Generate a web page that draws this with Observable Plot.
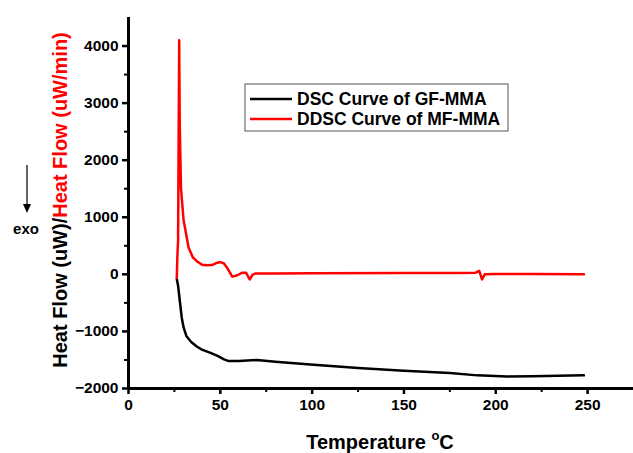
<!DOCTYPE html>
<html><head><meta charset="utf-8">
<script src="https://cdn.jsdelivr.net/npm/d3@7"></script>
<script src="https://cdn.jsdelivr.net/npm/@observablehq/plot@0.6"></script>
<style>
body{margin:0;background:#fff;}
svg{font-family:"Liberation Sans",Arial,sans-serif;}
</style></head>
<body><div id="chart"></div>
<script>
const dscT = [26.3,27,28,29,30,31.5,34,37,40,45,48.5,52,54.5,60,70,80,99,125,150,175,190,206,220,248];
const dscV = [-80,-200,-480,-760,-930,-1080,-1180,-1260,-1320,-1380,-1430,-1490,-1520,-1520,-1500,-1530,-1580,-1640,-1690,-1730,-1770,-1790,-1785,-1770];
const ddscT = [26.3,26.6,27.0,27.6,27.9,28.6,30,32.7,35,37.6,40,43,46,48,50,52,54,56.5,59,62,64,66,67.5,69,80,100,150,180,189,191,192.5,194,200,220,248];
const ddscV = [-60,300,600,4100,2600,1500,950,470,300,220,170,160,170,200,215,190,100,-40,-20,30,30,-90,-10,15,15,20,25,25,30,60,-90,0,5,5,0];
const xMajor = [0,50,100,150,200,250];
const xMinor = [25,75,125,175,225];
const yMajor = [-2000,-1000,0,1000,2000,3000,4000];
const yMinor = [-1500,-500,500,1500,2500,3500];
const seriesNames = ["DSC Curve of GF-MMA","DDSC Curve of MF-MMA"];
const seriesColors = ["#000000","#ff0000"];

const dsc = dscT.map((t,i)=>({t, v:dscV[i]}));
const ddsc = ddscT.map((t,i)=>({t, v:ddscV[i]}));

const plot = Plot.plot({
  width: 633, height: 453,
  marginLeft: 128, marginRight: 0, marginTop: 17, marginBottom: 65,
  x: {domain:[0,275]},
  y: {domain:[-2000,4500]},
  style: {fontFamily:"Liberation Sans, Arial, sans-serif"},
  marks: [
    Plot.axisX(xMajor, {tickSize:6, strokeWidth:2.5, fontSize:15.5, fontWeight:"bold", tickPadding:4, label:null, fill:"#000", tickFormat:d3.format("d")}),
    Plot.axisX(xMinor, {tickSize:4, strokeWidth:2, text:null, label:null}),
    Plot.axisY(yMajor, {tickSize:6, strokeWidth:2.5, fontSize:15.5, fontWeight:"bold", tickPadding:4, label:null, fill:"#000", tickFormat:d3.format("d")}),
    Plot.axisY(yMinor, {tickSize:4, strokeWidth:2, text:null, label:null}),
    Plot.ruleY([-2000], {strokeWidth:3}),
    Plot.ruleX([0], {strokeWidth:3}),
    Plot.line(dsc, {x:"t", y:"v", stroke:seriesColors[0], strokeWidth:2.5}),
    Plot.line(ddsc, {x:"t", y:"v", stroke:seriesColors[1], strokeWidth:2.5})
  ]
});
document.getElementById("chart").appendChild(plot);

const svg = d3.select(plot);
// legend
const lg = svg.append("g").attr("text-anchor","start");
lg.append("rect").attr("x",245).attr("y",84).attr("width",263).attr("height",47)
  .attr("fill","#fff").attr("stroke","#555").attr("stroke-width",1);
seriesNames.forEach((n,i)=>{
  const y = 99 + i*20;
  lg.append("line").attr("x1",250).attr("x2",292).attr("y1",y).attr("y2",y)
    .attr("stroke",seriesColors[i]).attr("stroke-width",2.5);
  lg.append("text").attr("x",297).attr("y",y).attr("dy","0.35em")
    .attr("font-size",17.5).attr("font-weight","bold").attr("fill","#000").text(n);
});
// y label
const yl = svg.append("text").attr("transform","translate(67,200) rotate(-90)")
  .attr("text-anchor","middle").attr("font-size",20).attr("font-weight","bold");
yl.append("tspan").attr("fill","#000").text("Heat Flow (uW)/");
yl.append("tspan").attr("fill","#ff0000").text("Heat Flow (uW/min)");
// exo arrow
svg.append("line").attr("x1",27).attr("x2",27).attr("y1",165).attr("y2",206)
  .attr("stroke","#000").attr("stroke-width",1.2);
svg.append("path").attr("d","M23,204 L27,213 L31,204 Z").attr("fill","#000");
svg.append("text").attr("x",26).attr("y",234).attr("text-anchor","middle")
  .attr("font-size",15).attr("font-weight","bold").text("exo");
// x label
const xl = svg.append("text").attr("x",380).attr("y",449).attr("text-anchor","middle")
  .attr("font-size",20).attr("font-weight","bold");
xl.append("tspan").text("Temperature ");
xl.append("tspan").attr("font-size",13).attr("dy",-9).text("o");
xl.append("tspan").attr("dy",9).text("C");
</script></body></html>
